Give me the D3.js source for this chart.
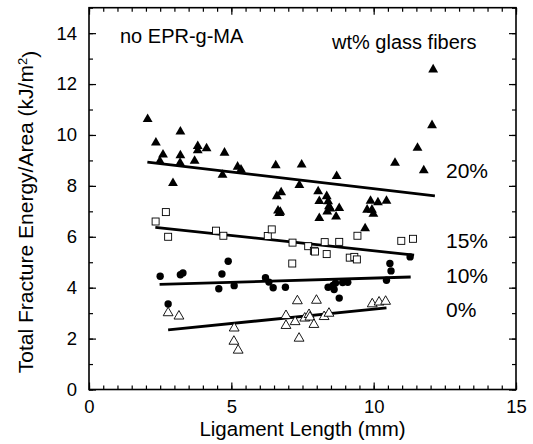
<!DOCTYPE html>
<html>
<head>
<meta charset="utf-8">
<script src="https://cdn.jsdelivr.net/npm/d3@7"></script>
<style>
  body { margin: 0; background: #fff; }
  svg { font-family: "Liberation Sans", Arial, Helvetica, sans-serif; }
</style>
</head>
<body>
<svg id="chart" width="533" height="444"></svg>
<script>
// 20 wt% glass fibers (filled triangles)
var gf20 = [
  [2.06, 10.62], [2.35, 9.70], [2.60, 9.23], [2.49, 8.97], [2.95, 8.11],
  [3.21, 10.13], [3.21, 9.20], [3.20, 8.90], [3.71, 8.98], [3.82, 9.56],
  [3.82, 9.39], [4.13, 9.47], [4.76, 9.30], [4.69, 8.43], [5.22, 8.75],
  [5.34, 8.64], [6.56, 8.80], [7.47, 8.83], [7.39, 8.03], [8.70, 8.38],
  [6.60, 7.59], [6.75, 7.74], [6.64, 7.03], [6.69, 6.93], [6.72, 6.98],
  [8.05, 7.78], [8.09, 7.40], [8.35, 7.59], [8.40, 7.39], [8.43, 7.19],
  [8.37, 6.99], [8.48, 7.10], [8.09, 6.73], [8.68, 6.79], [8.79, 7.12],
  [9.70, 6.33], [9.89, 7.41], [9.77, 7.06], [9.94, 7.06], [9.99, 6.90],
  [10.15, 7.35], [10.45, 7.41], [10.75, 8.90], [11.54, 9.49], [11.76, 8.61],
  [12.09, 12.57], [12.05, 10.38]
];
// 15 wt% (open squares)
var gf15 = [
  [2.34, 6.60], [2.70, 6.97], [2.78, 6.00], [4.46, 6.24], [4.72, 6.04],
  [6.28, 6.03], [6.42, 6.29], [7.15, 5.77], [7.14, 4.95], [7.70, 5.63],
  [7.90, 5.45], [7.94, 5.42], [8.28, 5.79], [8.35, 5.32], [8.79, 5.80],
  [9.16, 5.18], [9.32, 5.21], [9.41, 5.11], [9.43, 6.04], [10.97, 5.84],
  [11.38, 5.92]
];
// 10 wt% (filled circles)
var gf10 = [
  [2.50, 4.45], [2.78, 3.36], [3.21, 4.51], [3.30, 4.58], [4.56, 3.96],
  [4.67, 4.54], [4.89, 5.04], [5.10, 4.08], [6.20, 4.39], [6.32, 4.22],
  [6.47, 4.00], [6.90, 4.02], [8.40, 4.02], [8.57, 4.09], [8.61, 3.93],
  [8.66, 4.18], [8.79, 3.59], [8.91, 4.20], [9.09, 4.21], [10.45, 4.29],
  [10.57, 4.95], [10.61, 4.66], [11.28, 5.21]
];
// 0 wt% (open triangles)
var gf0 = [
  [2.78, 3.01], [3.16, 2.88], [5.10, 2.41], [5.09, 1.89], [5.24, 1.54],
  [6.92, 2.90], [6.92, 2.51], [7.24, 2.66], [7.32, 3.48], [7.38, 2.01],
  [7.58, 2.80], [7.73, 2.94], [7.76, 2.84], [7.90, 2.55], [7.99, 3.50],
  [8.26, 2.86], [8.43, 2.99], [9.95, 3.36], [10.19, 3.43], [10.42, 3.46]
];
// fitted lines: [x1, y1, x2, y2]
var fit20 = [2.05, 8.93, 12.15, 7.61];
var fit15 = [2.33, 6.37, 11.42, 5.28];
var fit10 = [2.48, 4.13, 11.30, 4.42];
var fit0 = [2.78, 2.34, 10.45, 3.21];

var seriesLabels = ["20%", "15%", "10%", "0%"];
var labelAnchors = [[12.54, 8.31], [12.54, 5.56], [12.54, 4.18], [12.54, 2.85]];

var xTicks = [0, 5, 10, 15];
var yTicks = [0, 2, 4, 6, 8, 10, 12, 14];

var svg = d3.select("#chart");

var x = d3.scaleLinear().domain([0, 15]).range([89, 516]);
var y = d3.scaleLinear().domain([0, 15]).range([389.5, 7.7]);

// axes, ticks point inward on all four sides
function addAxis(axis, tx, ty, labels) {
  var g = svg.append("g")
    .attr("transform", "translate(" + tx + "," + ty + ")")
    .call(axis);
  g.select(".domain").remove();
  g.selectAll("line").attr("stroke", "#000").attr("stroke-width", 1.2);
  g.selectAll("text").attr("fill", "#000").style("font-size", "18.5px")
    .style("font-family", "'Liberation Sans', Arial, sans-serif");
  if (!labels) g.selectAll("text").remove();
  return g;
}

var minorX = d3.range(0, 15.01, 0.5);
var minorY = d3.range(0, 15.01, 1);

addAxis(d3.axisBottom(x).tickValues(xTicks).tickSize(-7).tickPadding(10), 0, y(0), true);
addAxis(d3.axisBottom(x).tickValues(minorX).tickSize(-4).tickFormat(""), 0, y(0), false);
addAxis(d3.axisTop(x).tickValues(xTicks).tickSize(-7), 0, y(15), false);
addAxis(d3.axisTop(x).tickValues(minorX).tickSize(-4), 0, y(15), false);
addAxis(d3.axisLeft(y).tickValues(yTicks).tickSize(-7).tickPadding(12), x(0), 0, true);
addAxis(d3.axisLeft(y).tickValues(minorY).tickSize(-4), x(0), 0, false);
addAxis(d3.axisRight(y).tickValues(yTicks).tickSize(-7), x(15), 0, false);
addAxis(d3.axisRight(y).tickValues(minorY).tickSize(-4), x(15), 0, false);

// frame
svg.append("rect")
  .attr("x", x(0)).attr("y", y(15))
  .attr("width", x(15) - x(0)).attr("height", y(0) - y(15))
  .attr("fill", "none").attr("stroke", "#000").attr("stroke-width", 1.6);

// fit lines
[fit20, fit15, fit10, fit0].forEach(function (f) {
  svg.append("line")
    .attr("x1", x(f[0])).attr("y1", y(f[1]))
    .attr("x2", x(f[2])).attr("y2", y(f[3]))
    .attr("stroke", "#000").attr("stroke-width", 2.8);
});

var triangle = d3.symbol().type(d3.symbolTriangle).size(42);

svg.selectAll(".t20").data(gf20).enter().append("path")
  .attr("class", "t20")
  .attr("d", triangle)
  .attr("transform", function (d) { return "translate(" + x(d[0]) + "," + y(d[1]) + ")"; })
  .attr("fill", "#000");

svg.selectAll(".s15").data(gf15).enter().append("rect")
  .attr("class", "s15")
  .attr("x", function (d) { return x(d[0]) - 3.5; })
  .attr("y", function (d) { return y(d[1]) - 3.5; })
  .attr("width", 7).attr("height", 7)
  .attr("fill", "#fff").attr("stroke", "#000").attr("stroke-width", 0.9);

svg.selectAll(".c10").data(gf10).enter().append("circle")
  .attr("class", "c10")
  .attr("cx", function (d) { return x(d[0]); })
  .attr("cy", function (d) { return y(d[1]); })
  .attr("r", 3.7)
  .attr("fill", "#000");

svg.selectAll(".t0").data(gf0).enter().append("path")
  .attr("class", "t0")
  .attr("d", triangle)
  .attr("transform", function (d) { return "translate(" + x(d[0]) + "," + y(d[1]) + ")"; })
  .attr("fill", "#fff").attr("stroke", "#000").attr("stroke-width", 0.9);

// series labels
svg.selectAll(".lab").data(seriesLabels).enter().append("text")
  .attr("class", "lab")
  .attr("x", function (d, i) { return x(labelAnchors[i][0]); })
  .attr("y", function (d, i) { return y(labelAnchors[i][1]); })
  .style("font-size", "21px")
  .text(function (d) { return d; });

svg.append("text")
  .attr("x", 120).attr("y", 43)
  .style("font-size", "20px")
  .text("no EPR-g-MA");

svg.append("text")
  .attr("x", 332).attr("y", 49)
  .style("font-size", "20px")
  .text("wt% glass fibers");

// axis titles
svg.append("text")
  .attr("x", (x(0) + x(15)) / 2).attr("y", 436)
  .attr("text-anchor", "middle")
  .style("font-size", "20.5px")
  .text("Ligament Length (mm)");

var yt = svg.append("text")
  .attr("transform", "translate(33,212) rotate(-90)")
  .attr("text-anchor", "middle")
  .style("font-size", "21px");
yt.append("tspan").text("Total Fracture Energy/Area (kJ/m");
yt.append("tspan").attr("dy", "-0.45em").style("font-size", "13px").text("2");
yt.append("tspan").attr("dy", "0.45em").text(")");
</script>
</body>
</html>
